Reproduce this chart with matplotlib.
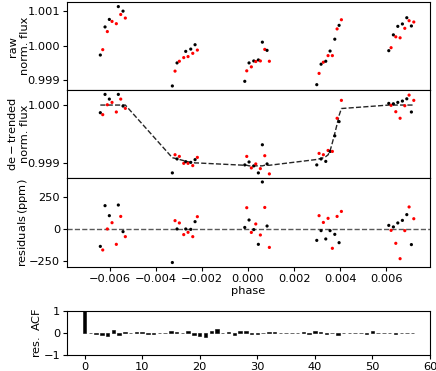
import numpy as np
import matplotlib
matplotlib.use("Agg")
import matplotlib.pyplot as plt

plt.rcParams['font.family'] = ['DejaVu Sans']
plt.rcParams['font.size'] = 8.2
plt.rcParams['xtick.major.size'] = 3.0
plt.rcParams['ytick.major.size'] = 3.0
plt.rcParams['xtick.major.pad'] = 2.0
plt.rcParams['ytick.major.pad'] = 2.0

# ---- data ----
phase = [
    -0.006422, -0.006317, -0.006217, -0.006117, -0.006030, -0.005913, -0.005726, -0.005639, -0.005535, -0.005435, -0.005335,
    -0.003291, -0.003174, -0.003087, -0.002987, -0.002796, -0.002709, -0.002609, -0.002491, -0.002404, -0.002304, -0.002204,
    -0.000143, -0.000057, 0.000043, 0.000143, 0.000248, 0.000335, 0.000448, 0.000535, 0.000622, 0.000726, 0.000826, 0.000926,
    0.002987, 0.003087, 0.003174, 0.003274, 0.003378, 0.003478, 0.003565, 0.003665, 0.003770, 0.003870, 0.003957, 0.004057,
    0.006117, 0.006217, 0.006317, 0.006422, 0.006509, 0.006609, 0.006709, 0.006813, 0.006900, 0.007000, 0.007100, 0.007204,
]
colors = (
    list("krkrkrrkrkr") +
    list("krkrrkrkrkr") +
    list("krkrkrkrkrkr") +
    list("krkrkrkrkrkr") +
    list("krkrkrkrkrkr")
)
raw_flux = [
    0.999731, 0.999886, 1.000543, 1.000409, 1.000760, 1.000703, 1.000637, 1.001131, 1.000903, 1.001000, 1.000800,
    0.998837, 0.999266, 0.999503, 0.999551, 0.999657, 0.999837, 0.999686, 0.999903, 0.999780, 1.000029, 0.999874,
    0.998971, 0.999274, 0.999503, 0.999389, 0.999560, 0.999543, 0.999589, 0.999560, 1.000103, 0.999894, 0.999866, 0.999551,
    0.998874, 0.999200, 0.999466, 0.999523, 0.999551, 0.999714, 0.999846, 0.999714, 1.000189, 1.000486, 1.000589, 1.000751,
    0.999857, 0.999943, 1.000314, 1.000257, 1.000560, 1.000229, 1.000629, 1.000503, 1.000809, 1.000723, 1.000571, 1.000686,
]
detrended_flux = [
    0.999868, 0.999834, 1.000184, 1.000005, 1.000103, 1.000046, 0.999880, 1.000184, 1.000103, 0.999983, 0.999943,
    0.998828, 0.999142, 0.999069, 0.999113, 0.998993, 0.999022, 0.998993, 0.999010, 0.998954, 0.999057, 0.999096,
    0.998966, 0.999113, 0.999017, 0.998914, 0.998949, 0.998983, 0.998828, 0.998902, 0.999314, 0.999125, 0.998983, 0.998811,
    0.998966, 0.999165, 0.999069, 0.999142, 0.999027, 0.999216, 0.999199, 0.999199, 0.999468, 0.999772, 0.999714, 1.000081,
    1.000029, 0.999995, 1.000022, 0.999885, 1.000046, 0.999772, 1.000069, 0.999988, 1.000108, 1.000172, 0.999880, 1.000081,
]
model_flux = [
    1.00000, 1.00000, 1.00000, 1.00000, 1.00000, 1.00000, 1.00000, 1.00000, 1.00000, 1.00000, 1.00000,
    0.99909, 0.99908, 0.99907, 0.99906, 0.99904, 0.99903, 0.99902, 0.99901, 0.99901, 0.99900, 0.99900,
    0.99896, 0.99896, 0.99895, 0.99895, 0.99895, 0.99895, 0.99895, 0.99895, 0.99895, 0.99896, 0.99896, 0.99896,
    0.99906, 0.99907, 0.99908, 0.99909, 0.99911, 0.99914, 0.99921, 0.99935, 0.99951, 0.99967, 0.99982, 0.99994,
    1.00000, 1.00000, 1.00000, 1.00000, 1.00000, 1.00000, 1.00000, 1.00000, 1.00000, 1.00000, 1.00000, 1.00000,
]
residuals_ppm = [
    -136, -164, 182, 0, 104, 49, -120, 187, 98, -21, -60,
    -262, 65, 0, 47, -44, 0, -26, -3, -60, 57, 96,
    12, 166, 70, -27, -5, 39, -120, -47, 367, 168, 23, -144,
    -89, 104, -13, 51, -78, 83, -13, -151, -42, 98, -107, 137,
    28, -11, 16, -112, 47, -232, 67, -13, 112, 172, -122, 80,
]
acf_lags = list(range(58))
acf_values = [
    1.0, -0.02, -0.05, -0.08, -0.15, 0.15, -0.08, 0.03, 0.02, 0.05,
    0.05, -0.06, -0.05, -0.02, -0.02, 0.08, 0.05, -0.02, 0.08, -0.08,
    -0.12, -0.20, 0.10, 0.18, -0.02, 0.05, -0.10, 0.07, 0.08, -0.05,
    -0.05, 0.0, 0.05, 0.06, 0.0, -0.02, -0.01, 0.0, 0.06, -0.05,
    0.08, 0.06, -0.04, 0.02, -0.10, -0.02, -0.01, 0.01, 0.02, -0.05,
    0.10, 0.02, 0.0, -0.01, -0.05, -0.01, 0.0, -0.01,
]
raw_yticks = [0.999, 1.000, 1.001]
det_yticks = [0.999, 1.000]
res_yticks = [-250, 0, 250]
phase_ticks = [-0.006, -0.004, -0.002, 0.000, 0.002, 0.004, 0.006]
acf_yticks = [-1, 0, 1]
acf_xticks = [0, 10, 20, 30, 40, 50, 60]

fig = plt.figure(figsize=(4.36, 3.71), dpi=100)
L, W = 0.1537, 0.8326
ax1 = fig.add_axes([L, 0.7574, W, 0.2359])
ax2 = fig.add_axes([L, 0.5202, W, 0.2372], sharex=ax1)
ax3 = fig.add_axes([L, 0.2803, W, 0.2399], sharex=ax1)
ax4 = fig.add_axes([L, 0.0431, W, 0.1186])

ms = 2.3
ph = np.array(phase)
cols = np.array(['black' if c == 'k' else 'red' for c in colors])

ax1.scatter(ph, raw_flux, s=ms**2, c=cols, zorder=3, linewidths=0)
ax1.set_ylim(0.99872, 1.00125)
ax1.set_yticks(raw_yticks)
ax1.set_yticklabels(['0.999', '1.000', '1.001'])
ax1.set_ylabel('raw\nnorm. flux')
ax1.tick_params(axis='x', which='both', bottom=False, labelbottom=False)

ax2.plot(ph, model_flux, ls='--', color='0.15', lw=1.0, zorder=2)
ax2.scatter(ph, detrended_flux, s=ms**2, c=cols, zorder=3, linewidths=0)
ax2.set_ylim(0.99874, 1.00026)
ax2.set_yticks(det_yticks)
ax2.set_yticklabels(['0.999', '1.000'])
ax2.set_ylabel('$\\mathrm{de-trended}$\nnorm. flux')
ax2.tick_params(axis='x', which='both', bottom=False, labelbottom=False)

ax3.axhline(0, ls='--', color='0.35', lw=1.0, zorder=1)
ax3.scatter(ph, residuals_ppm, s=ms**2, c=cols, zorder=3, linewidths=0)
ax3.set_ylim(-297, 398)
ax3.set_yticks(res_yticks)
ax3.set_yticklabels(['\u2212250', '0', '250'])
ax3.set_ylabel('$\\mathrm{residuals\\,(ppm)}$')
ax3.set_xticks(phase_ticks)
ax3.set_xticklabels(['\u22120.006', '\u22120.004', '\u22120.002', '0.000', '0.002', '0.004', '0.006'])
ax3.set_xlabel('phase', labelpad=1.5)
ax3.set_xlim(-0.00787, 0.00791)

ax4.bar(acf_lags, acf_values, width=0.6, color='black', edgecolor='black', linewidth=0.4)
ax4.set_ylim(-1, 1)
ax4.set_xlim(-3.05, 60)
ax4.set_yticks(acf_yticks)
ax4.set_xticks(acf_xticks)
ax4.set_ylabel('$\\mathrm{res.\\ ACF}$')

for ax in (ax1, ax2, ax3):
    ax.yaxis.set_label_coords(-0.102, 0.5)
ax4.yaxis.set_label_coords(-0.069, 0.5)

fig.savefig('out.png', dpi=100)
